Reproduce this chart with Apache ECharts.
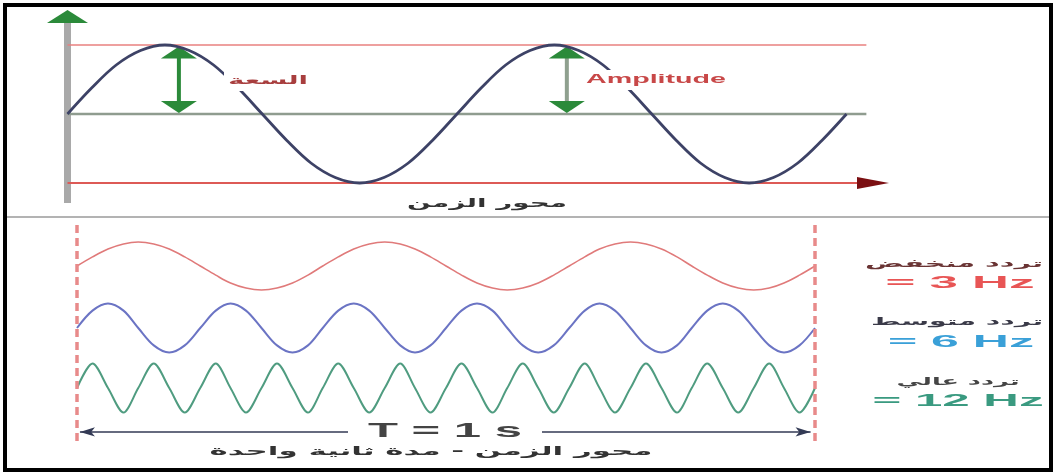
<!DOCTYPE html>
<html>
<head>
<meta charset="utf-8">
<script src="https://cdn.jsdelivr.net/npm/echarts@6/dist/echarts.min.js"></script>
<style>
html,body{margin:0;padding:0;background:#fff;}
#c{width:1057px;height:473px;}
</style>
</head>
<body>
<div id="c"></div>
<script>
// ---------- DATA ----------
// Top panel: one wave, time in periods, amplitude normalised
const topTimes = [0,0.0625,0.125,0.1875,0.25,0.3125,0.375,0.4375,0.5,0.5625,0.625,0.6875,0.75,0.8125,0.875,0.9375,
                  1,1.0625,1.125,1.1875,1.25,1.3125,1.375,1.4375,1.5,1.5625,1.625,1.6875,1.75,1.8125,1.875,1.9375,2];
const topWave  = [0,0.38,0.71,0.92,1,0.92,0.71,0.38,0,-0.38,-0.71,-0.92,-1,-0.92,-0.71,-0.38,
                  0,0.38,0.71,0.92,1,0.92,0.71,0.38,0,-0.38,-0.71,-0.92,-1,-0.92,-0.71,-0.38,0];
const amplitudeLevels = [1, 0, -1];          // top red line, midline, bottom axis
const amplitudeArrowTimes = [0.286, 1.282];  // where the green amplitude arrows stand

// Bottom panel: time in seconds over T = 1 s
const bottomTimes = [0,0.021,0.042,0.063,0.083,0.104,0.125,0.146,0.167,0.188,0.208,0.229,0.25,0.271,0.292,0.313,0.333,0.354,0.375,0.396,0.417,0.438,0.458,0.479,0.5,0.521,0.542,0.563,0.583,0.604,0.625,0.646,0.667,0.688,0.708,0.729,0.75,0.771,0.792,0.813,0.833,0.854,0.875,0.896,0.917,0.938,0.958,0.979,1];
const wave3Hz = [0,0.38,0.71,0.92,1,0.92,0.71,0.38,0,-0.38,-0.71,-0.92,-1,-0.92,-0.71,-0.38,
                 0,0.38,0.71,0.92,1,0.92,0.71,0.38,0,-0.38,-0.71,-0.92,-1,-0.92,-0.71,-0.38,
                 0,0.38,0.71,0.92,1,0.92,0.71,0.38,0,-0.38,-0.71,-0.92,-1,-0.92,-0.71,-0.38,0];
const wave6Hz = [0,0.71,1,0.71,0,-0.71,-1,-0.71, 0,0.71,1,0.71,0,-0.71,-1,-0.71,
                 0,0.71,1,0.71,0,-0.71,-1,-0.71, 0,0.71,1,0.71,0,-0.71,-1,-0.71,
                 0,0.71,1,0.71,0,-0.71,-1,-0.71, 0,0.71,1,0.71,0,-0.71,-1,-0.71,0];
const wave12Hz = [0,1,0,-1,0,1,0,-1,0,1,0,-1,0,1,0,-1,0,1,0,-1,0,1,0,-1,
                  0,1,0,-1,0,1,0,-1,0,1,0,-1,0,1,0,-1,0,1,0,-1,0,1,0,-1,0];
const periodSeconds = [0, 1];   // T = 1 s span

// Text
const txtAmplitudeAr = 'السعة';
const txtAmplitudeEn = 'Amplitude';
const txtTimeAxis = 'محور الزمن';
const txtPeriod = 'T = 1 s';
const txtTimeAxisSecond = 'محور الزمن - مدة ثانية واحدة';
const txtLowAr = 'تردد منخفض', txtLow = '= 3 Hz';
const txtMidAr = 'تردد متوسط', txtMid = '= 6 Hz';
const txtHighAr = 'تردد عالي', txtHigh = '= 12 Hz';

// ---------- CHART ----------
const zip = (xs, ys) => xs.map((x, i) => [x, ys[i]]);
const chart = echarts.init(document.getElementById('c'), null, {renderer: 'canvas'});

const measureCtx = document.createElement('canvas').getContext('2d');
function label(text, cx, cy, size, color, targetW, opts) {
  opts = opts || {};
  const family = opts.family || (/[\u0600-\u06FF]/.test(text) ? 'DejaVu Sans' : 'Liberation Sans');
  const weight = opts.weight || 'normal';
  const font = weight + ' ' + size + 'px "' + family + '"';
  measureCtx.font = font;
  const w = measureCtx.measureText(text).width || 1;
  const sx = targetW / w;
  const st = {
    text: text, fill: color, font: font,
    textAlign: 'center', textVerticalAlign: 'middle'
  };
  if (opts.bg) {
    st.backgroundColor = '#ffffff';
    st.padding = [opts.padY || 2, (opts.padX || 4) / sx];
  }
  return {type: 'text', x: cx, y: cy, scaleX: sx, scaleY: 1, z: 100, style: st, silent: true};
}

const lineS = (gi, data, color, width, extra) => Object.assign({
  type: 'line', xAxisIndex: gi, yAxisIndex: gi, data: data, showSymbol: false, symbol: 'none',
  clip: false, silent: true, lineStyle: {color: color, width: width}, animation: false
}, extra || {});
const headS = (gi, pt, color, size, rot, z) => ({
  type: 'scatter', xAxisIndex: gi, yAxisIndex: gi, data: [pt], symbol: 'triangle',
  symbolSize: size, symbolRotate: rot, clip: false, silent: true, z: z || 3,
  itemStyle: {color: color, opacity: 1}, animation: false
});

const topEnd = 2.051;
const dashed = {color: '#e88a8a', width: 3.5, type: [8, 5]};
const series = [
  // top panel
  lineS(0, [[0,-1.29],[0,1.34]], '#a9a9a9', 7),
  headS(0, [0, 1.413], '#2b8a3a', [41, 13], 0),
  lineS(0, [[0, amplitudeLevels[0]],[topEnd, amplitudeLevels[0]]], '#e8817f', 1.5),
  lineS(0, [[0, amplitudeLevels[1]],[topEnd, amplitudeLevels[1]]], '#8f9c8f', 2.5),
  lineS(0, [[0, amplitudeLevels[2]],[2.04, amplitudeLevels[2]]], '#dd5a56', 2),
  headS(0, [2.068, amplitudeLevels[2]], '#7b0f12', [12, 32], -90),
  lineS(0, [[amplitudeArrowTimes[0],0.06],[amplitudeArrowTimes[0],0.94]], '#2b8a3a', 4),
  headS(0, [amplitudeArrowTimes[0], 0.891], '#2b8a3a', [36, 12], 0, 4),
  headS(0, [amplitudeArrowTimes[0], 0.101], '#2b8a3a', [36, 12], 180, 4),
  lineS(0, [[amplitudeArrowTimes[1],0.06],[amplitudeArrowTimes[1],0.94]], '#8fa08f', 4),
  headS(0, [amplitudeArrowTimes[1], 0.891], '#2b8a3a', [36, 12], 0, 4),
  headS(0, [amplitudeArrowTimes[1], 0.101], '#2b8a3a', [36, 12], 180, 4),
  lineS(0, zip(topTimes, topWave), '#3d4266', 2.8, {smooth: 0.35, z: 5}),
  // bottom panel waves
  lineS(1, zip(bottomTimes, wave3Hz), '#e07a7a', 1.6, {smooth: 0.35}),
  lineS(2, zip(bottomTimes, wave6Hz), '#6b74c4', 2, {smooth: 0.33}),
  lineS(3, zip(bottomTimes, wave12Hz), '#4f9c80', 2, {smooth: 0.3}),
  // frame: dashed period borders and T arrow
  lineS(4, [[periodSeconds[0],0],[periodSeconds[0],1]], '#e88a8a', 3.5, {lineStyle: dashed}),
  lineS(4, [[periodSeconds[1],0],[periodSeconds[1],1]], '#e88a8a', 3.5, {lineStyle: dashed}),
  {
    type: 'line', xAxisIndex: 4, yAxisIndex: 4, data: [], silent: true, animation: false,
    markLine: {
      silent: true, animation: false, symbol: ['arrow','arrow'], symbolSize: [7, 15],
      label: {show: false},
      lineStyle: {color: '#333a55', width: 1.5, type: 'solid'},
      data: [[{coord: [0.004, 0.042]}, {coord: [0.994, 0.042]}]]
    }
  }
];

const hiddenX = (g, min, max) => ({type: 'value', gridIndex: g, min: min, max: max, show: false});
const hiddenY = (g, min, max) => ({type: 'value', gridIndex: g, min: min, max: max, show: false});

chart.setOption({
  animation: false,
  backgroundColor: '#ffffff',
  grid: [
    {left: 67.5, right: 167.65, top: 10.5, bottom: 262.4},
    {left: 77, right: 242, top: 242, bottom: 183},
    {left: 77, right: 242, top: 303.5, bottom: 120.5},
    {left: 77, right: 242, top: 363.5, bottom: 60.5},
    {left: 77, right: 242, top: 225, bottom: 32}
  ],
  xAxis: [hiddenX(0, 0, 2.11), hiddenX(1, 0, 1), hiddenX(2, 0, 1), hiddenX(3, 0, 1), hiddenX(4, 0, 1)],
  yAxis: [hiddenY(0, -1.4, 1.5), hiddenY(1, -1, 1), hiddenY(2, -1, 1), hiddenY(3, -1, 1), hiddenY(4, 0, 1)],
  series: series,
  graphic: [
    {type: 'line', shape: {x1: 6, y1: 217, x2: 1050, y2: 217}, style: {stroke: '#9a9a9a', lineWidth: 1.5}, z: 50, silent: true},
    {type: 'rect', shape: {x: 5, y: 5, width: 1046, height: 465}, style: {fill: 'none', stroke: '#000', lineWidth: 4}, z: 200, silent: true},
    label(txtAmplitudeAr, 268, 81, 12, '#a83e3e', 80, {bg: true, padX: 4, padY: 4, weight: 'bold'}),
    label(txtAmplitudeEn, 656, 80, 12, '#c84848', 140, {bg: true, padX: 5, padY: 4, weight: 'bold'}),
    label(txtTimeAxis, 487, 204, 12, '#333333', 160, {weight: 'bold'}),
    label(txtPeriod, 445, 431, 21, '#444444', 154, {bg: true, padX: 20, padY: 1, weight: 'bold'}),
    label(txtTimeAxisSecond, 431, 452, 12, '#333333', 443, {weight: 'bold'}),
    label(txtLowAr, 954, 264, 11, '#6a3434', 178, {weight: 'bold'}),
    label(txtLow, 960, 283, 17, '#e85555', 149, {weight: 'bold'}),
    label(txtMidAr, 957, 322, 11, '#3a3a48', 172, {weight: 'bold'}),
    label(txtMid, 961, 342, 17, '#3aa0d8', 146, {weight: 'bold'}),
    label(txtHighAr, 958, 382, 11, '#454545', 123, {weight: 'bold'}),
    label(txtHigh, 958, 401, 17, '#3a9a80', 171, {weight: 'bold'})
  ]
});
</script>
</body>
</html>
